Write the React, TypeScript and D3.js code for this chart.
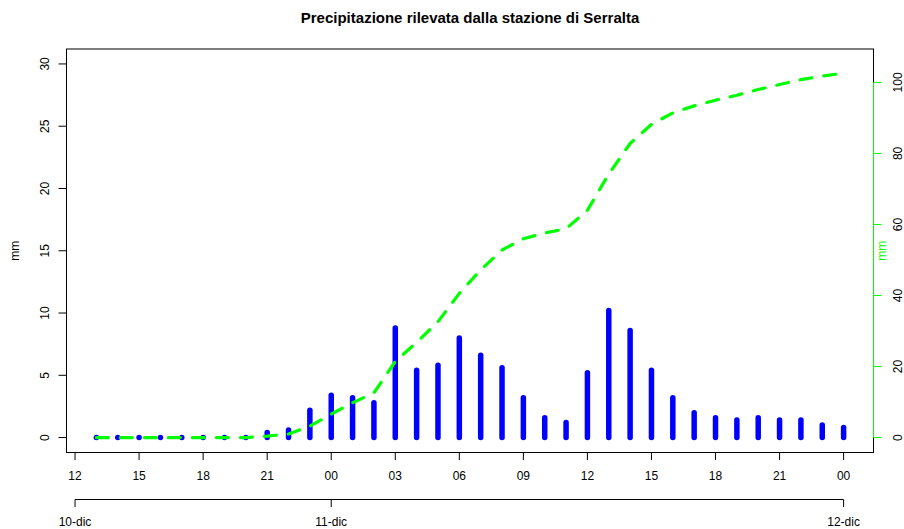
import React, { useEffect } from "react";
import * as d3 from "d3";

// hour offsets from 10-dic 12:00
const hourOffsets = [1, 2, 3, 4, 5, 6, 7, 8, 9, 10, 11, 12, 13, 14, 15, 16, 17, 18, 19, 20, 21, 22, 23, 24, 25, 26, 27, 28, 29, 30, 31, 32, 33, 34, 35, 36];
const rainMm = [0, 0, 0, 0, 0, 0, 0, 0, 0.4, 0.6, 2.2, 3.4, 3.2, 2.8, 8.8, 5.4, 5.8, 8.0, 6.6, 5.6, 3.2, 1.6, 1.2, 5.2, 10.2, 8.6, 5.4, 3.2, 2.0, 1.6, 1.4, 1.6, 1.4, 1.4, 1.0, 0.8];
const hourTickOffsets = [0, 3, 6, 9, 12, 15, 18, 21, 24, 27, 30, 33, 36];
const hourTickLabels = ["12", "15", "18", "21", "00", "03", "06", "09", "12", "15", "18", "21", "00"];
const dayTickOffsets = [0, 12, 36];
const dayTickLabels = ["10-dic", "11-dic", "12-dic"];
const leftTicks = [0, 5, 10, 15, 20, 25, 30];
const rightTicks = [0, 20, 40, 60, 80, 100];
const title = "Precipitazione rilevata dalla stazione di Serralta";

const W = 904, H = 529;
const L = 66.5, R = 873.5, T = 49, B = 452.5;
const FONT = "'Liberation Sans', Arial, Helvetica, sans-serif";

export default function App() {
  useEffect(() => {
    document.body.style.margin = "0";
  }, []);

  const x = d3.scaleLinear().domain([-0.4, 37.4]).range([L, R]);
  const yL = d3.scaleLinear().domain([-1.2, 31.2]).range([B, T]);
  const yR = d3.scaleLinear().domain([-4.208, 109.41]).range([B, T]);
  const cum = Array.from(d3.cumsum(rainMm));
  const line = d3
    .line<number>()
    .x((_, i) => x(hourOffsets[i]))
    .y((d) => yR(d));

  const green = "#00FF00";
  const dayAxisY = 499.5;

  return (
    <svg width={W} height={H} style={{ position: "absolute", left: 0, top: 0, background: "#fff" }} fontFamily={FONT}>
      <rect x={0} y={0} width={W} height={H} fill="#fff" />
      <text x={(L + R) / 2} y={23} textAnchor="middle" fontWeight="bold" fontSize={15}>
        {title}
      </text>

      {/* bars */}
      <g stroke="#0000FF" strokeWidth={5.5} strokeLinecap="round">
        {rainMm.map((v, i) => (
          <line key={i} x1={x(hourOffsets[i])} x2={x(hourOffsets[i])} y1={yL(0)} y2={yL(v)} />
        ))}
      </g>

      {/* cumulative line */}
      <path d={line(cum) || ""} fill="none" stroke={green} strokeWidth={3.2} strokeDasharray="12 12" strokeLinecap="round" strokeLinejoin="round" />

      {/* box */}
      <rect x={L} y={T} width={R - L} height={B - T} fill="none" stroke="#000" strokeWidth={1} />

      {/* left axis */}
      <g fontSize={12}>
        <line x1={L} x2={L} y1={yL(0)} y2={yL(30)} stroke="#000" />
        {leftTicks.map((t) => (
          <g key={t}>
            <line x1={L - 8} x2={L} y1={yL(t)} y2={yL(t)} stroke="#000" />
            <text transform={`translate(48.5,${yL(t)}) rotate(-90)`} textAnchor="middle">
              {t}
            </text>
          </g>
        ))}
        <text transform={`translate(18.5,${(T + B) / 2}) rotate(-90)`} textAnchor="middle">
          mm
        </text>
      </g>

      {/* right axis */}
      <g fontSize={12}>
        <line x1={R} x2={R} y1={yR(0)} y2={yR(100)} stroke={green} />
        {rightTicks.map((t) => (
          <g key={t}>
            <line x1={R} x2={R + 8} y1={yR(t)} y2={yR(t)} stroke={green} />
            <text transform={`translate(902,${yR(t)}) rotate(-90)`} textAnchor="middle" fill="#000">
              {t}
            </text>
          </g>
        ))}
        <text transform={`translate(885.5,${(T + B) / 2}) rotate(-90)`} textAnchor="middle" fill={green}>
          mm
        </text>
      </g>

      {/* bottom hour axis */}
      <g fontSize={12}>
        <line x1={x(0)} x2={x(36)} y1={B} y2={B} stroke="#000" />
        {hourTickOffsets.map((h, i) => (
          <g key={i}>
            <line x1={x(h)} x2={x(h)} y1={B} y2={B + 7.5} stroke="#000" />
            <text x={x(h)} y={479.5} textAnchor="middle">
              {hourTickLabels[i]}
            </text>
          </g>
        ))}
      </g>

      {/* bottom day axis */}
      <g fontSize={12}>
        <line x1={x(0)} x2={x(36)} y1={dayAxisY} y2={dayAxisY} stroke="#000" />
        {dayTickOffsets.map((h, i) => (
          <g key={i}>
            <line x1={x(h)} x2={x(h)} y1={dayAxisY} y2={dayAxisY + 7.5} stroke="#000" />
            <text x={x(h)} y={526} textAnchor="middle">
              {dayTickLabels[i]}
            </text>
          </g>
        ))}
      </g>
    </svg>
  );
}
